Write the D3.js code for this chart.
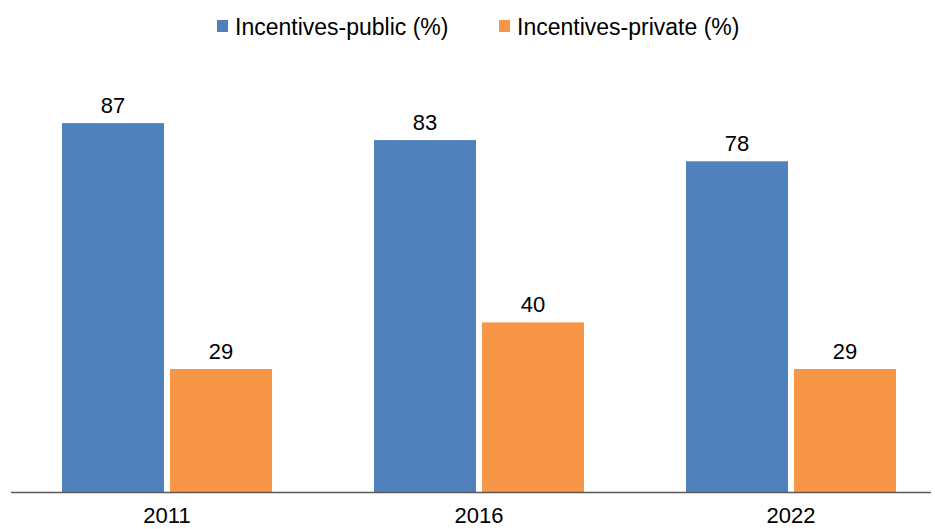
<!DOCTYPE html>
<html>
<head>
<meta charset="utf-8">
<script src="https://cdn.jsdelivr.net/npm/d3@7"></script>
<style>
  html, body { margin: 0; padding: 0; background: #fff; }
  svg { display: block; font-family: "Liberation Sans", Arial, sans-serif; }
</style>
</head>
<body>
<svg id="chart" width="935" height="529"></svg>
<script>
// Survey years and the share of respondents citing each incentive type
const years = ["2011", "2016", "2022"];
const seriesNames = ["Incentives-public (%)", "Incentives-private (%)"];
const publicValues = [87, 83, 78];
const privateValues = [29, 40, 29];
const seriesColors = ["#4F81BD", "#F79646"];

const svg = d3.select("#chart");
const baseline = 492;
const labelSize = 22;
const legendSize = 23;

const x = d3.scaleBand().domain(years).range([11, 947]).padding(0);
const xInner = d3.scaleBand()
  .domain(seriesNames)
  .range([51, 261])
  .paddingInner(0.0556)
  .paddingOuter(0);
const y = d3.scaleLinear().domain([0, 100]).range([baseline, baseline - 424]);

const rows = years.map((yr, i) => ({
  year: yr,
  values: [
    { name: seriesNames[0], value: publicValues[i], color: seriesColors[0] },
    { name: seriesNames[1], value: privateValues[i], color: seriesColors[1] }
  ]
}));

const groups = svg.selectAll("g.year")
  .data(rows)
  .join("g")
  .attr("class", "year")
  .attr("transform", d => `translate(${x(d.year)},0)`);

groups.selectAll("rect")
  .data(d => d.values)
  .join("rect")
  .attr("x", d => xInner(d.name))
  .attr("width", xInner.bandwidth())
  .attr("y", d => y(d.value))
  .attr("height", d => y(0) - y(d.value))
  .attr("fill", d => d.color);

groups.selectAll("text.value")
  .data(d => d.values)
  .join("text")
  .attr("class", "value")
  .attr("x", d => xInner(d.name) + xInner.bandwidth() / 2)
  .attr("y", d => y(d.value) - 10)
  .attr("text-anchor", "middle")
  .attr("font-size", labelSize)
  .attr("fill", "#000")
  .text(d => d.value);

// Category axis: a plain baseline with year labels below
const xAxis = d3.axisBottom(x).tickSize(0).tickPadding(0);
const axisG = svg.append("g")
  .attr("transform", `translate(0,${baseline})`)
  .call(xAxis);
axisG.select(".domain").remove();
axisG.append("line")
  .attr("x1", 11).attr("x2", 931)
  .attr("y1", 0.5).attr("y2", 0.5)
  .attr("stroke", "#595959")
  .attr("stroke-width", 1.3);
axisG.selectAll(".tick text")
  .attr("font-size", labelSize)
  .attr("font-family", "Liberation Sans, Arial, sans-serif")
  .attr("fill", "#000")
  .attr("dy", null)
  .attr("y", 31);

// Legend
const legendItems = [
  { name: seriesNames[0], color: seriesColors[0], x: 217 },
  { name: seriesNames[1], color: seriesColors[1], x: 499 }
];
const legend = svg.append("g");
const li = legend.selectAll("g")
  .data(legendItems)
  .join("g")
  .attr("transform", d => `translate(${d.x},20)`);
li.append("rect")
  .attr("width", 11).attr("height", 12)
  .attr("y", 0)
  .attr("fill", d => d.color);
li.append("text")
  .attr("x", 18)
  .attr("y", 15)
  .attr("font-size", legendSize)
  .attr("fill", "#000")
  .text(d => d.name);
</script>
</body>
</html>
